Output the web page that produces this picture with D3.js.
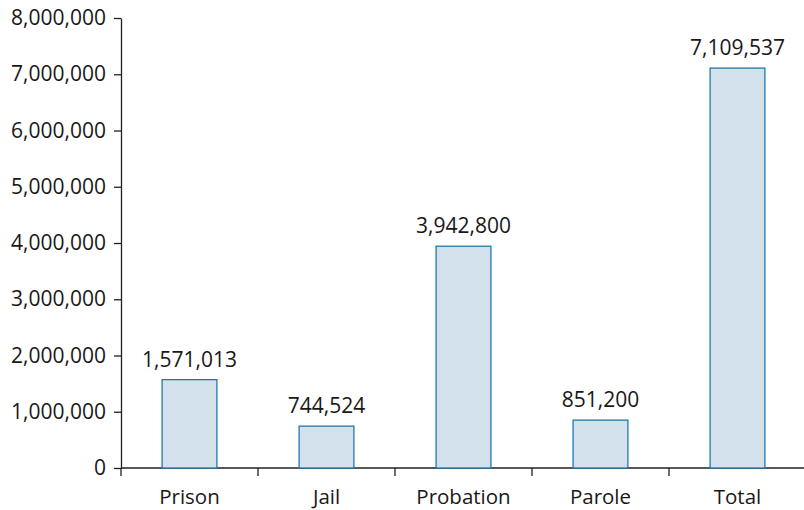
<!DOCTYPE html>
<meta charset="utf-8">
<head>
  <script src="https://d3js.org/d3.v7.min.js"></script>
  <style>
    body { margin: 0; background: #fff; font-family: "Open Sans", "Noto Sans", sans-serif; }
    .axis text { font-size: 21px; fill: #1a1718; font-family: "Open Sans", "Noto Sans", sans-serif; }
    .axis path, .axis line { stroke: #231f20; stroke-width: 1.3; }
    .bar { fill: #d3e1ec; stroke: #1f7aa8; stroke-width: 1.3; }
    .value { font-size: 21px; fill: #1a1718; text-anchor: middle; }
    .cat { font-size: 20.5px; fill: #1a1718; text-anchor: middle; }
  </style>
</head>
<body>
<script>
  var categories = ["Prison", "Jail", "Probation", "Parole", "Total"];
  var values = [1571013, 744524, 3942800, 851200, 7109537];
  var yTicks = [0, 1000000, 2000000, 3000000, 4000000, 5000000, 6000000, 7000000, 8000000];

  var width = 804, height = 510;
  var margin = { top: 18, right: -2, bottom: 42, left: 121 };

  var svg = d3.select("body").append("svg")
    .attr("width", width)
    .attr("height", height);

  var x = d3.scaleBand()
    .domain(categories)
    .range([margin.left, width - margin.right])
    .paddingInner(0.6)
    .paddingOuter(0.3);

  var y = d3.scaleLinear()
    .domain([0, 8000000])
    .range([height - margin.bottom, margin.top]);

  var fmt = d3.format(",");

  // y axis
  svg.append("g")
    .attr("class", "axis")
    .attr("transform", "translate(" + margin.left + ",0)")
    .call(d3.axisLeft(y).tickValues(yTicks).tickFormat(fmt).tickSize(7).tickSizeOuter(0).tickPadding(8));

  // x axis line
  svg.append("line")
    .attr("x1", margin.left).attr("x2", width)
    .attr("y1", y(0)).attr("y2", y(0))
    .style("stroke", "#231f20").style("stroke-width", 1.3);

  // boundary ticks between categories
  var step = x.step();
  var bounds = d3.range(categories.length).map(function (i) { return margin.left + i * step; });
  svg.selectAll(".btick").data(bounds).enter().append("line")
    .attr("x1", function (d) { return d; }).attr("x2", function (d) { return d; })
    .attr("y1", y(0)).attr("y2", y(0) + 8)
    .style("stroke", "#231f20").style("stroke-width", 1.3);

  // category labels
  svg.selectAll(".catlbl").data(categories).enter().append("text")
    .attr("class", "cat")
    .attr("x", function (d) { return x(d) + x.bandwidth() / 2; })
    .attr("y", y(0) + 36)
    .text(function (d) { return d; });

  // bars
  svg.selectAll(".bar").data(values).enter().append("rect")
    .attr("class", "bar")
    .attr("x", function (d, i) { return x(categories[i]); })
    .attr("width", x.bandwidth())
    .attr("y", function (d) { return y(d); })
    .attr("height", function (d) { return y(0) - y(d); });

  // value labels
  svg.selectAll(".lbl").data(values).enter().append("text")
    .attr("class", "value")
    .attr("x", function (d, i) { return x(categories[i]) + x.bandwidth() / 2; })
    .attr("y", function (d) { return y(d) - 13; })
    .text(function (d) { return fmt(d); });
</script>
</body>
</html>
